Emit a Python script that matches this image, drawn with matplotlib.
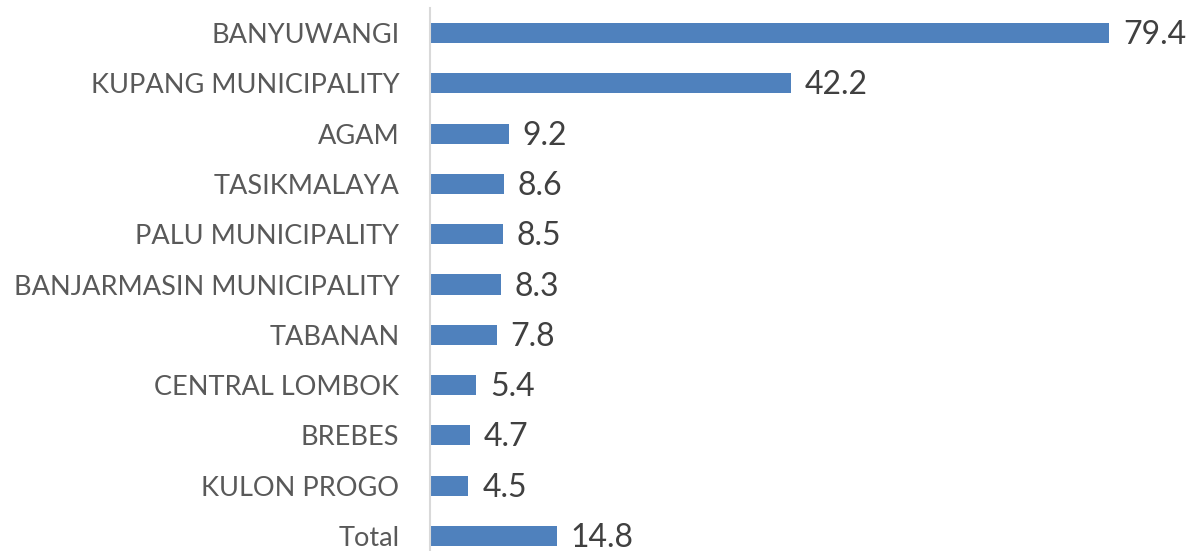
import matplotlib.pyplot as plt

regions = ['BANYUWANGI', 'KUPANG MUNICIPALITY', 'AGAM', 'TASIKMALAYA',
           'PALU MUNICIPALITY', 'BANJARMASIN MUNICIPALITY', 'TABANAN',
           'CENTRAL LOMBOK', 'BREBES', 'KULON PROGO', 'Total']
values = [79.4, 42.2, 9.2, 8.6, 8.5, 8.3, 7.8, 5.4, 4.7, 4.5, 14.8]

plt.rcParams['font.family'] = ['Lato', 'DejaVu Sans']

fig = plt.figure(figsize=(11.86, 5.51), dpi=100)
ax = fig.add_axes([430 / 1186, 0, 1 - 430 / 1186, 1 - 8 / 551])

pos = list(range(len(regions)))
ax.barh(pos, values, height=0.4, color='#4F81BD')

# value labels to the right of each bar
for y, v in zip(pos, values):
    ax.annotate(f'{v:.1f}', (v, y), xytext=(10, -1.5), textcoords='offset points',
                va='center', ha='left', fontsize=23, color='#404040')

ax.set_yticks(pos)
ax.set_yticklabels(regions, fontsize=19.5, color='#595959')
ax.tick_params(axis='y', length=0, pad=22)
ax.set_xticks([])
ax.set_xlim(0, 88.4)
ax.set_ylim(10.3, -0.5)

for side in ['top', 'right', 'bottom']:
    ax.spines[side].set_visible(False)
ax.spines['left'].set_color('#D9D9D9')
ax.spines['left'].set_linewidth(1.5)

fig.savefig('out.png', dpi=100)
